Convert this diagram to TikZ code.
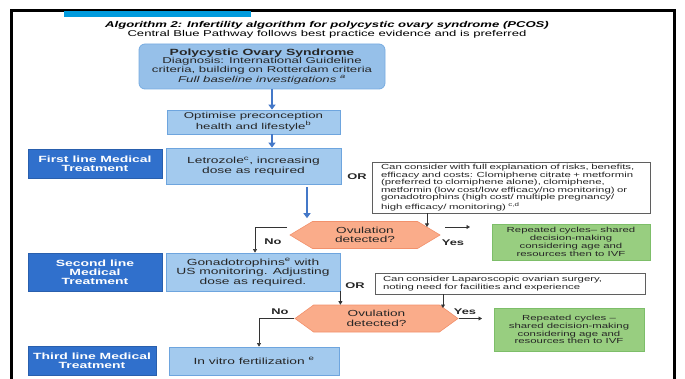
\documentclass[tikz,border=0pt]{standalone}
\usepackage{fontspec}
\setmainfont{Liberation Sans}[FakeStretch=1.55]
\usetikzlibrary{arrows.meta,shapes.symbols}
\definecolor{barblue}{RGB}{0,155,222}
\definecolor{polyfill}{RGB}{150,192,233}
\definecolor{polyline}{RGB}{120,172,225}
\definecolor{stepfill}{RGB}{163,202,238}
\definecolor{stepline}{RGB}{110,165,222}
\definecolor{linefill}{RGB}{48,112,204}
\definecolor{ovfill}{RGB}{250,172,138}
\definecolor{ovline}{RGB}{242,145,108}
\definecolor{cyclefill}{RGB}{152,206,128}
\definecolor{cycleline}{RGB}{125,190,105}
\definecolor{arrowblue}{RGB}{68,120,200}
\definecolor{notegray}{RGB}{95,95,95}

\begin{document}
\begin{tikzpicture}[x=1pt,y=-1pt]
\tikzstyle{every node}+=[inner sep=0pt]
\tikzstyle{stepbox}=[draw=stepline,fill=stepfill,line width=0.8pt,align=center,text=black!85,font=\fontsize{8.9}{9.5}\selectfont]
\tikzstyle{linebox}=[draw=linefill!85!black,fill=linefill,line width=0.6pt,align=center,text=white,font=\bfseries\fontsize{9}{9}\selectfont]
\tikzstyle{notebox}=[draw=notegray,fill=white,line width=0.7pt,align=left,text=black!85,font=\fontsize{7.35}{7.6}\selectfont]
\tikzstyle{cyclebox}=[draw=cycleline,fill=cyclefill,line width=0.8pt,align=center,text=black!85,font=\fontsize{7.35}{7.8}\selectfont]
\tikzstyle{ovbox}=[shape=signal,signal to=west and east,draw=ovline,fill=ovfill,line width=0.6pt,align=center,text=black!85,font=\fontsize{8.8}{9.5}\selectfont]
\tikzstyle{tag}=[font=\bfseries\fontsize{8.3}{9}\selectfont,text=black!85]
\tikzstyle{bluearr}=[draw=arrowblue,line width=2.2pt,-{Triangle[length=5pt,width=7pt]}]
\tikzstyle{thinarr}=[draw=black!80,line width=0.6pt,-{Triangle[length=3.5pt,width=4pt]}]
\useasboundingbox (0,0) rectangle (685,379);
\draw [line width=3pt] (11.5,10.5) rectangle (674,400);
\fill [barblue] (64,11) rectangle (251,17);
\draw (327,25) node [font=\bfseries\itshape\fontsize{8.45}{9}\selectfont] (title) {Algorithm 2: Infertility algorithm for polycystic ovary syndrome (PCOS)};
\draw (327,34) node [font=\fontsize{8.45}{9}\selectfont] (subtitle) {Central Blue Pathway follows best practice evidence and is preferred};
\draw (262,66.5) node [stepbox,draw=polyline,fill=polyfill,rounded corners=6pt,minimum width=246,minimum height=45,font=\fontsize{8.55}{8.3}\selectfont] (poly) {{\bfseries\fontsize{9}{8.3}\selectfont Polycystic Ovary Syndrome}\\Diagnosis: International Guideline\\criteria, building on Rotterdam criteria\\\textit{Full baseline investigations \textsuperscript{a}}};
\draw (253.5,122) node [stepbox,minimum width=173,minimum height=24,font=\fontsize{8.55}{8.3}\selectfont] (opt) {Optimise preconception\\health and lifestyle\textsuperscript{b}};
\draw (253.5,166) node [stepbox,minimum width=175,minimum height=36] (letro) {Letrozole\textsuperscript{c}, increasing\\dose as required};
\draw (95,163.5) node [linebox,minimum width=134,minimum height=29] (first) {First line Medical\\Treatment};
\draw (357,177) node [tag] (or1) {OR};
\draw (511,187.5) node [notebox,minimum width=278,minimum height=51,text width=260] (note1) {Can consider with full explanation of risks, benefits,\\efficacy and costs: Clomiphene citrate + metformin\\(preferred to clomiphene alone), clomiphene,\\metformin (low cost/low efficacy/no monitoring) or\\gonadotrophins (high cost/ multiple pregnancy/\\high efficacy/ monitoring) \textsuperscript{c,d}};
\draw (365,235) node [ovbox,signal pointer angle=62,minimum width=150,minimum height=27] (ov1) {Ovulation\\detected?};
\draw (273,242) node [tag] (no1) {No};
\draw (453,243) node [tag] (yes1) {Yes};
\draw (571,242) node [cyclebox,minimum width=158,minimum height=36] (cycle1) {Repeated cycles-- shared\\decision-making\\considering age and\\resources then to IVF};
\draw (95,272) node [linebox,minimum width=134,minimum height=38] (second) {Second line\\Medical\\Treatment};
\draw (253,272) node [stepbox,minimum width=174,minimum height=38] (gonad) {Gonadotrophins\textsuperscript{e} with\\US monitoring. Adjusting\\dose as required.};
\draw (355,286) node [tag] (or2) {OR};
\draw (510,283.5) node [notebox,minimum width=270,minimum height=21,text width=254] (note2) {Can consider Laparoscopic ovarian surgery,\\noting need for facilities and experience};
\draw (376.5,318.5) node [ovbox,signal pointer angle=72,minimum width=163,minimum height=27] (ov2) {Ovulation\\detected?};
\draw (280,312) node [tag] (no2) {No};
\draw (465,312) node [tag] (yes2) {Yes};
\draw (569,329.5) node [cyclebox,minimum width=150,minimum height=43] (cycle2) {Repeated cycles --\\shared decision-making\\considering age and\\resources then to IVF};
\draw (92,360.5) node [linebox,minimum width=128,minimum height=29] (third) {Third line Medical\\Treatment};
\draw (254,361) node [stepbox,minimum width=170,minimum height=28] (ivf) {In vitro fertilization \textsuperscript{e}};
\coordinate (mainx) at (272,0);
\coordinate (ovx) at (307,0);
\coordinate (note1x) at (427,227);
\coordinate (no1start) at (287,227);
\coordinate (no1x) at (255,0);
\coordinate (yes1start) at (445,227);
\coordinate (yes1end) at (470,227);
\coordinate (note2x) at (443,308);
\coordinate (no2x) at (259,0);
\coordinate (yes2end) at (482,318.5);
\draw [bluearr] (poly.south -| mainx) -- (opt.north -| mainx);
\draw [bluearr] (opt.south -| mainx) -- (letro.north -| mainx);
\draw [bluearr,shorten <=3pt,shorten >=3pt] (letro.south -| ovx) -- (ov1.north -| ovx);
\draw [thinarr] (note1.south -| note1x) -- (note1x);
\draw [thinarr] (no1start) -| (gonad.north -| no1x);
\draw [thinarr] (yes1start) -- (yes1end);
\draw [thinarr] (gonad.south east) -- (gonad.south east |- ov2.north);
\draw [thinarr] (note2.south -| note2x) -- (note2x);
\draw [thinarr] (ov2.west) -| (ivf.north -| no2x);
\draw [thinarr] (ov2.east) -- (yes2end);
\end{tikzpicture}
\end{document}
